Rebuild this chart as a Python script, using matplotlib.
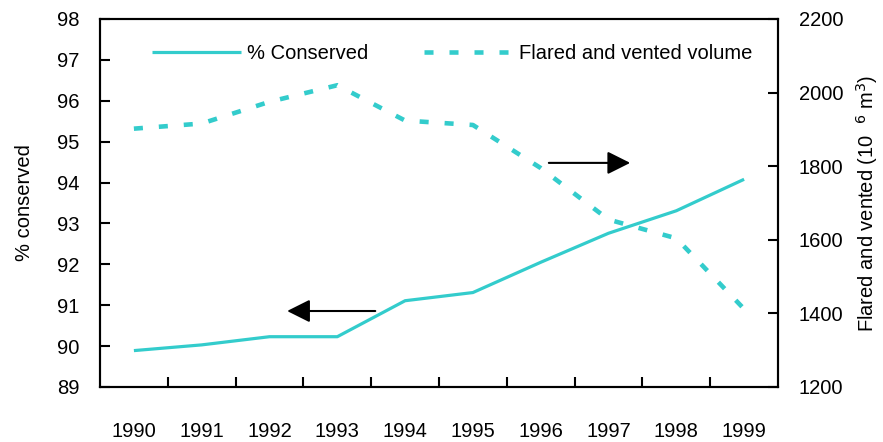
import matplotlib
matplotlib.use("Agg")
import matplotlib.pyplot as plt
import numpy as np

years = ["1990", "1991", "1992", "1993", "1994", "1995", "1996", "1997", "1998", "1999"]
pct_conserved = [89.89, 90.03, 90.23, 90.23, 91.11, 91.31, 92.05, 92.76, 93.31, 94.08]
flared_vented = [1902, 1916, 1975, 2020, 1924, 1912, 1795, 1655, 1604, 1412]

left_ticks = [89, 90, 91, 92, 93, 94, 95, 96, 97, 98]
right_ticks = [1200, 1400, 1600, 1800, 2000, 2200]

TEAL = "#33CCCC"
FONT = ["Liberation Sans", "DejaVu Sans"]
plt.rcParams['font.family'] = FONT
plt.rcParams['lines.scale_dashes'] = False
FS = 14.5

fig = plt.figure(figsize=(8.83, 4.42), dpi=100)
ax = fig.add_axes([100/883, 55/442, 678/883, 368/442])
ax2 = ax.twinx()

x = np.arange(len(years))
l1, = ax.plot(x, pct_conserved, color=TEAL, lw=2.3, solid_capstyle='butt', label="% Conserved", zorder=3)
l2, = ax2.plot(x, flared_vented, color=TEAL, lw=3.3, dashes=(6.5, 11.5), label="Flared and vented volume", zorder=3)

ax.set_xlim(-0.5, len(years) - 0.5)
ax.set_ylim(89, 98)
ax2.set_ylim(1200, 2200)

ax.set_xticks(x)
ax.set_xticklabels(years, fontsize=FS)
ax.tick_params(axis='x', which='major', length=0, pad=25)
ax.set_xticks(np.arange(0.5, len(years) - 1, 1.0), minor=True)
ax.tick_params(axis='x', which='minor', direction='in', length=7, width=1.5)

ax.set_yticks(left_ticks)
ax.set_yticklabels([str(v) for v in left_ticks], fontsize=FS)
ax.tick_params(axis='y', direction='in', length=7, width=1.5, pad=15)
ax2.set_yticks(right_ticks)
ax2.set_yticklabels([str(v) for v in right_ticks], fontsize=FS)
ax2.tick_params(axis='y', direction='in', length=7, width=1.5, pad=15)

for a in (ax, ax2):
    for s in a.spines.values():
        s.set_linewidth(1.5)

ax.set_ylabel("% conserved", fontsize=FS, labelpad=16)
ax2.set_ylabel("Flared and vented (10  $^{6}$ m$^{3}$)", fontsize=FS, labelpad=8)

# arrows
ax.annotate("", xy=(0.276, 0.2065), xytext=(0.406, 0.2065), xycoords='axes fraction',
            arrowprops=dict(arrowstyle='-|>,head_length=0.7,head_width=0.35', mutation_scale=20,
                            color='black', lw=1.5, shrinkA=0, shrinkB=0))
ax.annotate("", xy=(0.782, 0.609), xytext=(0.662, 0.609), xycoords='axes fraction',
            arrowprops=dict(arrowstyle='-|>,head_length=0.7,head_width=0.35', mutation_scale=20,
                            color='black', lw=1.5, shrinkA=0, shrinkB=0))

leg = ax2.legend([l1, l2], ["% Conserved", "Flared and vented volume"], ncol=2, frameon=False,
                 fontsize=FS, loc='center left', bbox_to_anchor=(0.05, 0.905),
                 handlelength=4.4, handletextpad=0.3, columnspacing=2.8)

fig.savefig("out.png", dpi=100)
